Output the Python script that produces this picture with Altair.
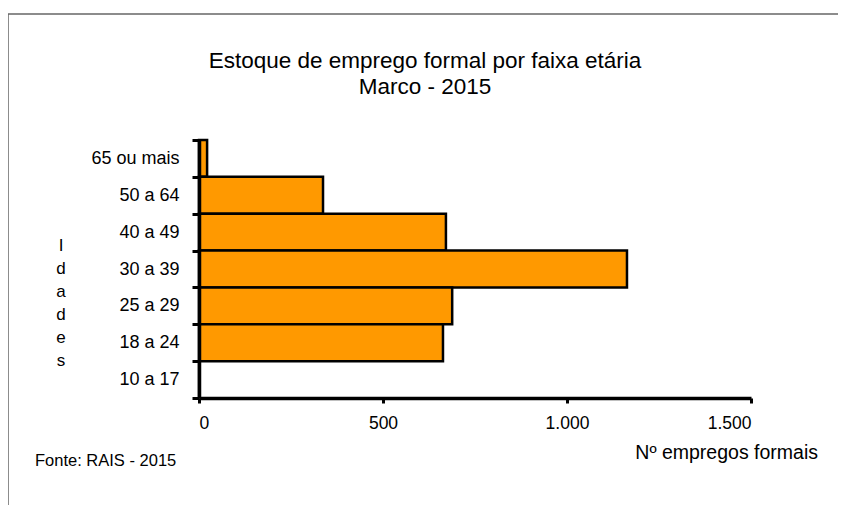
import altair as alt
import pandas as pd

categorias = ["65 ou mais", "50 a 64", "40 a 49", "30 a 39", "25 a 29", "18 a 24", "10 a 17"]
empregos = [22, 337, 671, 1163, 688, 663, 0]
x_ticks = [0, 500, 1000, 1500]
titulo = ["Estoque de emprego formal por faixa etária", "Marco - 2015"]
y_titulo = ["I", "d", "a", "d", "e", "s"]
x_titulo = "Nº empregos formais"
fonte = "Fonte: RAIS - 2015"

FONT = "Liberation Sans"
df = pd.DataFrame({"faixa": categorias, "valor": empregos})
one = pd.DataFrame({"k": [0]})

bars = alt.Chart(df).mark_bar(
    color="#FF9900", stroke="#000000", strokeWidth=2.5
).encode(
    x=alt.X("valor:Q",
            scale=alt.Scale(domain=[0, 1500], nice=False),
            axis=alt.Axis(values=x_ticks, format=",.0f", title=None, grid=False,
                          domainColor="#000", domainWidth=3.5, tickColor="#000",
                          tickWidth=3, tickSize=5, labelPadding=11, zindex=1,
                          domainOpacity=1, tickOpacity=1,
                          labelFont=FONT, labelFontSize=17.5, labelColor="#000")),
    y=alt.Y("faixa:N", sort=categorias,
            scale=alt.Scale(paddingInner=0, paddingOuter=0),
            axis=alt.Axis(title=None, tickBand="extent", domainColor="#000",
                          domainWidth=3.5, tickColor="#000", tickWidth=3, tickSize=7,
                          domainOpacity=1, tickOpacity=1,
                          labelPadding=13, labelFont=FONT, labelFontSize=18, zindex=1,
                          labelColor="#000")),
)

t1 = alt.Chart(one).mark_text(font=FONT, fontSize=22.5, align="center",
                               baseline="alphabetic", color="#000").encode(
    x=alt.value(226), y=alt.value(-72), text=alt.value(titulo[0]))
t2 = alt.Chart(one).mark_text(font=FONT, fontSize=22.5, align="center",
                               baseline="alphabetic", color="#000").encode(
    x=alt.value(226), y=alt.value(-46), text=alt.value(titulo[1]))
ytit = alt.Chart(one).mark_text(font=FONT, fontSize=17, align="center",
                                 baseline="alphabetic", lineHeight=23,
                                 color="#000").encode(
    x=alt.value(-138), y=alt.value(111), text=alt.value(y_titulo))
xtit = alt.Chart(one).mark_text(font=FONT, fontSize=19.5, align="right",
                                 baseline="alphabetic", color="#000").encode(
    x=alt.value(619), y=alt.value(319), text=alt.value(x_titulo))
src = alt.Chart(one).mark_text(font=FONT, fontSize=16.5, align="left",
                                baseline="alphabetic", color="#000").encode(
    x=alt.value(-164), y=alt.value(326), text=alt.value(fonte))

border_top = alt.Chart(one).mark_rule(color="#666666", strokeWidth=1.5).encode(
    x=alt.value(-191), x2=alt.value(640), y=alt.value(-126))
border_left = alt.Chart(one).mark_rule(color="#666666", strokeWidth=1.5).encode(
    x=alt.value(-191), y=alt.value(-126), y2=alt.value(370))

chart = alt.layer(bars, t1, t2, ytit, xtit, src, border_top, border_left).properties(
    width=552, height=258,
    autosize=alt.AutoSizeParams(type="none"),
    padding={"left": 191, "top": 132, "right": 87, "bottom": 107},
).configure(
    view=alt.ViewConfig(stroke="transparent", strokeWidth=0),
    axis=alt.AxisConfig(domainColor="#000", domainWidth=3.5, tickColor="#000",
                        tickWidth=3),
    locale={"number": {"decimal": ",", "thousands": ".", "grouping": [3],
                       "currency": ["R$", ""]}},
)

chart.save("out.html", embed_options={"renderer": "svg", "actions": False})
